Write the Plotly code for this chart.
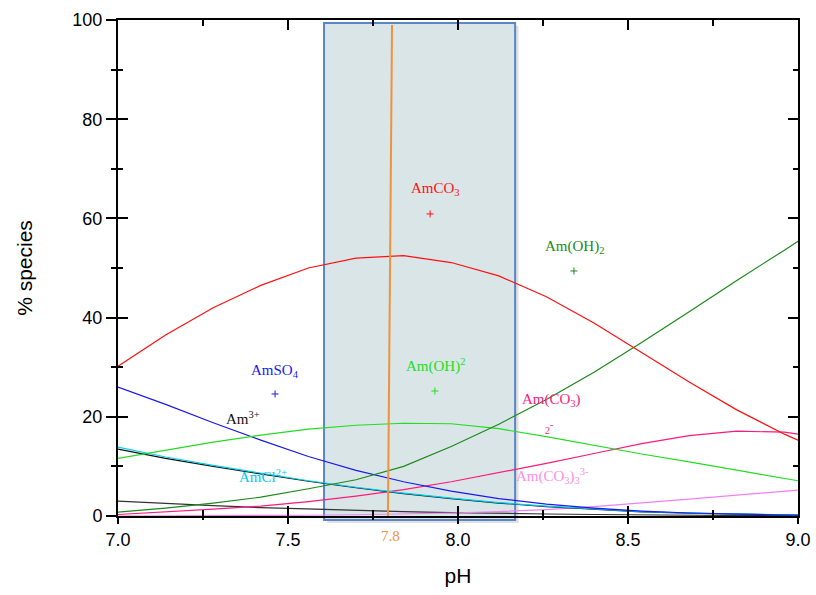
import plotly.graph_objects as go

ph = [7.00, 7.14, 7.28, 7.42, 7.56, 7.70, 7.84, 7.98, 8.12, 8.26, 8.40, 8.54, 8.68, 8.82, 8.96, 9.00]

am_co3 = [30.2, 36.5, 42.0, 46.5, 50.0, 52.0, 52.5, 51.1, 48.4, 44.2, 38.9, 33.0, 27.0, 21.4, 16.5, 15.3]
am_oh2 = [0.8, 1.6, 2.6, 3.8, 5.5, 7.3, 10.0, 14.0, 18.5, 23.5, 29.0, 35.0, 41.2, 47.5, 53.6, 55.4]
am_oh_2p = [11.6, 13.3, 14.9, 16.3, 17.5, 18.3, 18.7, 18.6, 17.6, 16.0, 14.2, 12.5, 10.9, 9.3, 7.6, 7.1]
am_so4 = [26.0, 22.5, 18.8, 15.3, 12.0, 9.2, 6.9, 5.0, 3.5, 2.4, 1.6, 1.0, 0.6, 0.35, 0.2, 0.15]
am_cl = [13.9, 11.9, 10.2, 8.6, 7.1, 5.8, 4.6, 3.6, 2.7, 2.0, 1.4, 0.9, 0.6, 0.4, 0.25, 0.2]
am_3p = [13.5, 11.6, 10.0, 8.5, 7.0, 5.7, 4.5, 3.5, 2.6, 1.9, 1.3, 0.85, 0.55, 0.35, 0.2, 0.18]
am_other = [3.0, 2.5, 2.1, 1.7, 1.4, 1.1, 0.9, 0.7, 0.5, 0.4, 0.3, 0.2, 0.15, 0.1, 0.1, 0.1]
am_co3_2 = [0.3, 0.8, 1.4, 2.0, 2.9, 4.0, 5.3, 6.9, 8.7, 10.6, 12.6, 14.6, 16.2, 17.1, 16.9, 16.5]
am_co3_3 = [0.0, 0.0, 0.05, 0.1, 0.15, 0.25, 0.4, 0.6, 0.9, 1.3, 1.9, 2.6, 3.4, 4.2, 5.0, 5.2]

series = [
    ("Am3+ (2)", am_other, "#333333"),
    ("Am(CO3)3 3-", am_co3_3, "#f080f0"),
    ("Am(CO3)2-", am_co3_2, "#ff1a7a"),
    ("Am3+", am_3p, "#111111"),
    ("AmCl2+", am_cl, "#00d0f0"),
    ("AmSO4", am_so4, "#1a1aee"),
    ("Am(OH)2+", am_oh_2p, "#22dd22"),
    ("Am(OH)2", am_oh2, "#1a8a1a"),
    ("AmCO3", am_co3, "#ff1010"),
]

# label marker points (+)
mark_x = [7.918, 8.341, 7.932, 7.462]
mark_y = [60.9, 49.4, 25.2, 24.6]
mark_c = ["#ff1010", "#1a8a1a", "#22dd22", "#1a1aee"]

labels = [
    ("AmCO<sub>3</sub>", 7.935, 65.9, "#ff1010"),
    ("Am(OH)<sub>2</sub>", 8.344, 54.2, "#1a8a1a"),
    ("Am(OH)<sup>2</sup>", 7.935, 30.4, "#22dd22"),
    ("AmSO<sub>4</sub>", 7.462, 29.2, "#1a1aee"),
    ("Am<sup>3+</sup>", 7.368, 19.8, "#111111"),
    ("AmCl<sup>2+</sup>", 7.426, 8.0, "#00c8f0"),
    ("Am(CO<sub>3</sub>)", 8.276, 23.4, "#ff1a7a"),
    ("<span style='font-size:10px'>2</span><sup>-</sup>", 8.27, 17.9, "#ff1a7a"),
    ("Am(CO<sub>3</sub>)<sub>3</sub><sup>3-</sup>", 8.279, 8.0, "#ff90e0"),
]

band_x = [7.606, 8.168]
ph_line = 7.8

fig = go.Figure()
for name, vals, col in series:
    fig.add_trace(go.Scatter(x=ph, y=vals, mode="lines", name=name,
                             line=dict(color=col, width=1.2), showlegend=False))
fig.add_trace(go.Scatter(x=mark_x, y=mark_y, mode="markers",
                         marker=dict(symbol="cross-thin", size=5, line=dict(width=1, color=mark_c)),
                         showlegend=False))
# invisible trace on overlay axes
fig.add_trace(go.Scatter(x=[7], y=[0], xaxis="x2", yaxis="y2", mode="markers",
                         marker=dict(opacity=0), showlegend=False, hoverinfo="skip"))

# shadow + shaded band
fig.add_shape(type="rect", xref="x", yref="paper", x0=band_x[0] + 0.010, x1=band_x[1] + 0.010,
              y0=-0.014, y1=0.988, fillcolor="rgba(0,0,0,0.12)", line=dict(width=0), layer="below")
fig.add_shape(type="rect", xref="x", yref="paper", x0=band_x[0], x1=band_x[1],
              y0=-0.008, y1=0.994, fillcolor="#dae5e8", line=dict(color="#5b86c5", width=2), layer="below")
fig.add_shape(type="line", xref="x", yref="paper", x0=ph_line - 0.006, x1=ph_line + 0.006,
              y0=0, y1=0.99, line=dict(color="#f0923a", width=2), layer="above")

for txt, x, y, col in labels:
    fig.add_annotation(x=x, y=y, xref="x", yref="y", text=txt, showarrow=False,
                       font=dict(family="Liberation Serif", size=15, color=col))
fig.add_annotation(x=ph_line, y=-0.02, xref="x", yref="paper", text="7.8", showarrow=False,
                   yanchor="top", font=dict(family="Liberation Serif", size=15, color="#f0923a"))

axis_font = dict(family="Liberation Sans", size=18, color="black")
title_font = dict(family="Liberation Sans", size=21, color="black")
fig.update_layout(
    width=816, height=595,
    margin=dict(l=118, r=18, t=20, b=79, autoexpand=False),
    paper_bgcolor="white", plot_bgcolor="white",
    xaxis=dict(range=[7, 9], dtick=0.5, tick0=7, tickformat=".1f", ticks="outside", ticklen=6,
               tickwidth=2, tickcolor="black", showline=True, linecolor="black", linewidth=2,
               mirror=True, showgrid=False, zeroline=False, tickfont=axis_font, automargin=False,
               minor=dict(dtick=0.25, ticks="outside", ticklen=2, tickwidth=1.5, tickcolor="black"),
               title=dict(text="pH", font=title_font, standoff=20)),
    yaxis=dict(range=[0, 100], dtick=20, ticks="outside", ticklen=10, tickwidth=2, tickcolor="black",
               showline=True, linecolor="black", linewidth=2, mirror=True, showgrid=False,
               zeroline=False, tickfont=axis_font, automargin=False,
               minor=dict(dtick=10, ticks="outside", ticklen=5, tickwidth=1.5, tickcolor="black"),
               title=dict(text="% species", font=title_font, standoff=34)),
    xaxis2=dict(range=[7, 9], overlaying="x", side="bottom", dtick=0.5, tick0=7, ticks="inside",
                ticklen=10, tickwidth=2, tickcolor="black", showticklabels=False, showgrid=False,
                zeroline=False, showline=False, mirror="allticks", automargin=False,
                minor=dict(dtick=0.25, ticks="inside", ticklen=6, tickwidth=1.5, tickcolor="black")),
    yaxis2=dict(range=[0, 100], overlaying="y", side="left", dtick=20, ticks="inside",
                ticklen=10, tickwidth=2, tickcolor="black", showticklabels=False, showgrid=False,
                zeroline=False, showline=False, mirror="allticks", automargin=False,
                minor=dict(dtick=10, ticks="inside", ticklen=5, tickwidth=1.5, tickcolor="black")),
)

fig.write_html("out.html", config={"displayModeBar": False},
               post_script="document.body.style.margin='0';document.body.style.overflow='hidden';")
